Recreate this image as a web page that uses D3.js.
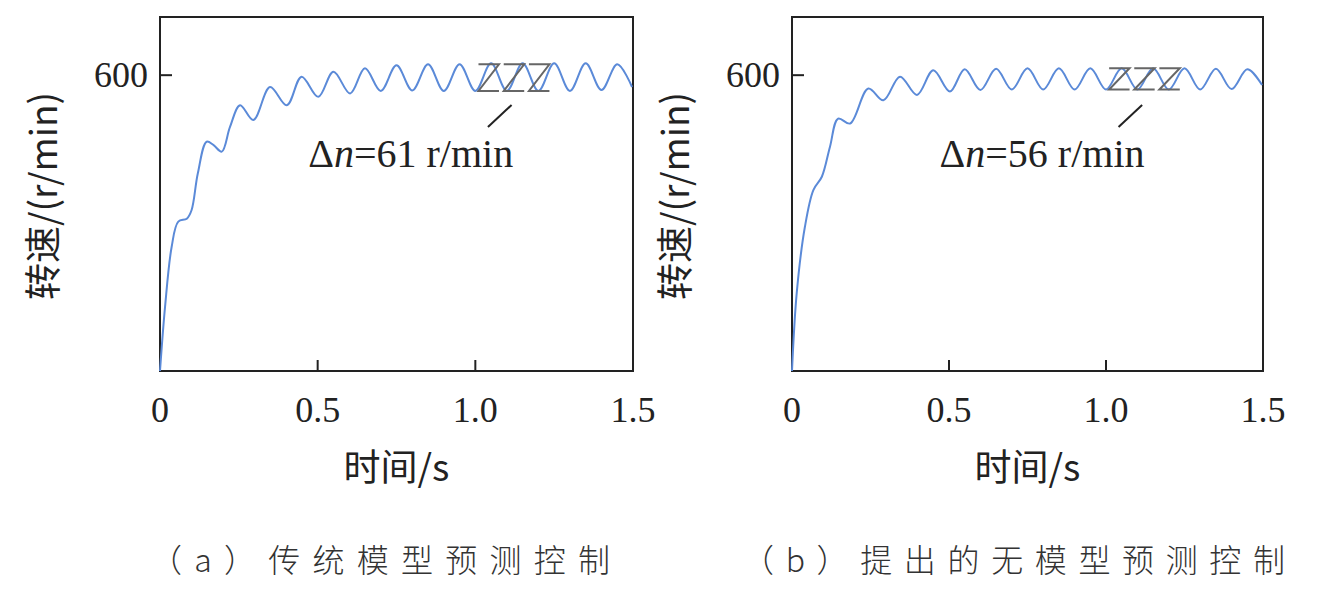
<!DOCTYPE html>
<html><head><meta charset="utf-8">
<script src="https://cdn.jsdelivr.net/npm/d3@7/dist/d3.min.js"></script>
<style>body{margin:0;background:#fff}</style></head>
<body><svg id="c" width="1320" height="607"></svg>
<script>
const xTicks=[0,0.5,1.0,1.5];
const xTickLabels=["0","0.5","1.0","1.5"];
const yTicks=[600];
const aT=[0,.016,.037,.058,.085,.1,.12,.148,.17,.196,.222,.254,.296,.349,.402,.449,.502,.55,.603,.65,.70,.75,.80,.85,.90,.95,1.0,1.05,1.10,1.15,1.20,1.25,1.30,1.35,1.40,1.45,1.497];
const aV=[0,130,252,303,309,326,401,465,458,445,495,539,509,576,539,597,556,607,563,614,568,620,569,622,568,622,568,624,568,624,568,624,568,624,570,622,576];
const bT=[0,.015,.041,.068,.095,.121,.147,.185,.243,.291,.344,.398,.45,.503,.55,.60,.65,.70,.75,.80,.85,.90,.95,1.0,1.05,1.10,1.15,1.20,1.25,1.30,1.35,1.40,1.45,1.497];
const bV=[0,158,292,367,394,455,512,502,573,549,597,560,610,567,612,570,613,571,614,571,614,571,614,571,614,571,614,571,614,571,613,572,612,580];
const panels=[
 {x0:160,x1:633,t:aT,v:aV,ann:"61",hiV:622,loV:568,cap:"（a）传统模型预测控制",capX:150,capW:460},
 {x0:792,x1:1263,t:bT,v:bV,ann:"56",hiV:614,loV:571,cap:"（b）提出的无模型预测控制",capX:742,capW:543}];
const svg=d3.select("#c");
const yTop=17,yBot=371;
panels.forEach(p=>{
 const x=d3.scaleLinear().domain([0,1.5]).range([p.x0,p.x1]);
 const y=d3.scaleLinear().domain([0,718]).range([yBot,yTop]);
 const g=svg.append("g");
 g.append("rect").attr("x",p.x0).attr("y",yTop).attr("width",p.x1-p.x0).attr("height",yBot-yTop).attr("fill","none").attr("stroke","#222").attr("stroke-width",2);
 xTicks.slice(1,3).forEach(t=>g.append("line").attr("x1",x(t)).attr("x2",x(t)).attr("y1",yBot).attr("y2",yBot-11).attr("stroke","#222").attr("stroke-width",2));
 yTicks.forEach(v=>g.append("line").attr("x1",p.x0).attr("x2",p.x0+12).attr("y1",y(v)).attr("y2",y(v)).attr("stroke","#222").attr("stroke-width",2));
 xTicks.forEach((t,i)=>g.append("text").attr("x",x(t)).attr("y",422).attr("text-anchor","middle").attr("font-family","Liberation Serif").attr("font-size",36).attr("fill","#222").text(xTickLabels[i]));
 yTicks.forEach(v=>g.append("text").attr("x",p.x0-12).attr("y",y(v)+12).attr("text-anchor","end").attr("font-family","Liberation Serif").attr("font-size",36).attr("fill","#222").text(v));
 const pts=p.t.map((t,i)=>[t,p.v[i]]);
 g.append("path").attr("d",d3.line().x(d=>x(d[0])).y(d=>y(d[1])).curve(d3.curveCatmullRom)(pts)).attr("fill","none").attr("stroke","#5b8ad8").attr("stroke-width",2);
 const hi=y(p.hiV), lo=y(p.loV);
 const zs=[1.01,1.09,1.17];
 zs.forEach(z=>{
  const a=x(z),b=x(z+0.065);
  g.append("path").attr("d",`M${a},${hi}L${b},${hi}L${a},${lo}L${b},${lo}`).attr("fill","none").attr("stroke","#666").attr("stroke-width",2);
 });
 g.append("line").attr("x1",x(1.115)).attr("y1",105).attr("x2",x(1.04)).attr("y2",127).attr("stroke","#222").attr("stroke-width",2);
 const tx=g.append("text").attr("x",x(0.47)).attr("y",167).attr("font-family","Liberation Serif").attr("font-size",40).attr("fill","#222");
 tx.append("tspan").text("Δ");tx.append("tspan").attr("font-style","italic").text("n");tx.append("tspan").text("="+p.ann+" r/min");
 g.append("text").attr("x",(p.x0+p.x1)/2).attr("y",481).attr("text-anchor","middle").attr("font-family","Noto Sans CJK SC").attr("font-size",37).attr("fill","#222").text("时间/s");
 g.append("text").attr("transform",`translate(${p.x0-103},${196}) rotate(-90)`).attr("text-anchor","middle").attr("font-family","Noto Sans CJK SC").attr("font-size",37).attr("fill","#222").text("转速/(r/min)");
 g.append("text").attr("x",p.capX).attr("y",572).attr("font-family","Noto Sans CJK SC").attr("font-weight",300).attr("font-size",32).attr("textLength",p.capW).attr("lengthAdjust","spacing").attr("fill","#333").text(p.cap);
});
</script></body></html>
